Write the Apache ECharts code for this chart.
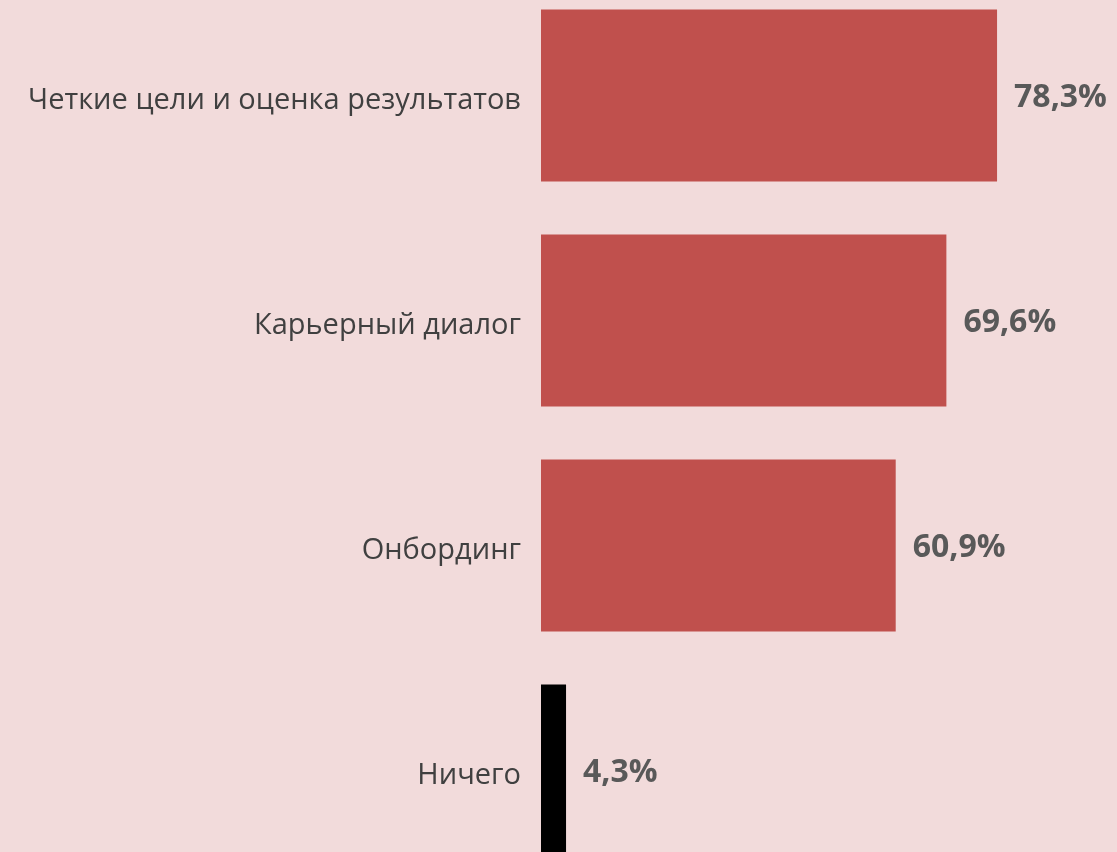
<!DOCTYPE html>
<html><head><meta charset="utf-8">
<script src="https://cdn.jsdelivr.net/npm/echarts@6/dist/echarts.min.js"></script>
<style>html,body{margin:0;padding:0;background:#f2dbdb;overflow:hidden;}#c{width:1117px;height:900px;position:relative;top:-17.5px;}</style>
</head><body><div id="c"></div>
<script>
const categories = ["Четкие цели и оценка результатов", "Карьерный диалог", "Онбординг", "Ничего"];
const values = [78.3, 69.6, 60.9, 4.3];
const barColors = ["#c0504d", "#c0504d", "#c0504d", "#000000"];

const chart = echarts.init(document.getElementById('c'));
chart.setOption({
  backgroundColor: '#f2dbdb',
  animation: false,
  grid: { left: 541, right: 51.8, top: 0, height: 900, containLabel: false },
  xAxis: { type: 'value', min: 0, max: 90, show: false },
  yAxis: {
    type: 'category', inverse: true, data: categories,
    axisLine: { show: false }, axisTick: { show: false },
    axisLabel: {
      margin: 20,
      formatter: v => '{a|' + v + '}',
      rich: { a: { color: '#404040', fontSize: 29, fontFamily: 'Open Sans', padding: [10, 0, 0, 0] } }
    }
  },
  series: [{
    type: 'bar',
    data: values.map((v, i) => ({ value: v, itemStyle: { color: barColors[i] } })),
    barCategoryGap: '23.6%',
    label: {
      show: true, position: 'right', distance: 17, offset: [0, 2],
      color: '#595959', fontSize: 32, fontWeight: 'bold', fontFamily: 'Open Sans',
      formatter: p => p.value.toFixed(1).replace('.', ',') + '%'
    }
  }]
});
</script></body></html>
